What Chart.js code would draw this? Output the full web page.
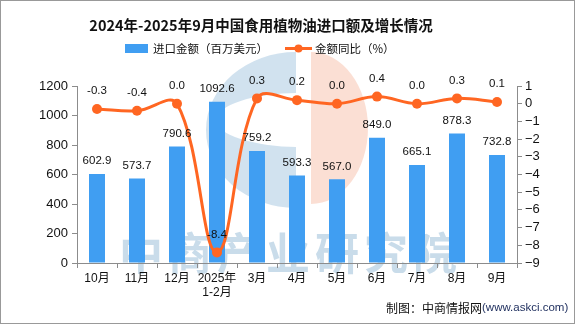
<!DOCTYPE html>
<html>
<head>
<meta charset="utf-8">
<script src="https://cdn.jsdelivr.net/npm/chart.js@4.4.1/dist/chart.umd.min.js"></script>
<style>
html,body{margin:0;padding:0;background:#fff;}
#wrap{width:575px;height:324px;position:relative;}
</style>
</head>
<body>
<div id="wrap"><canvas id="c"></canvas></div>
<script>
const chartTitle = '2024年-2025年9月中国食用植物油进口额及增长情况';
const categories = ['10月','11月','12月',['2025年','1-2月'],'3月','4月','5月','6月','7月','8月','9月'];
const importValues = [602.9,573.7,790.6,1092.6,759.2,593.3,567.0,849.0,665.1,878.3,732.8];
const yoyValues = [-0.3,-0.4,0.0,-8.4,0.3,0.2,0.0,0.4,0.0,0.3,0.1];
const seriesNames = ['进口金额（百万美元）','金额同比（%）'];
const sourceText = '制图：中商情报网';
const sourceUrl = '(www.askci.com)';
const watermarkText = '中商产业研究院';

const BAR = '#409EF2';
const LINE = '#FF6622';
const AXIS = '#8c8c8c';
const NUMFONT = '"Liberation Sans", "Noto Sans CJK SC", sans-serif';
const CJK = '"Noto Sans CJK SC", sans-serif';

const decor = {
  id: 'decor',
  beforeDraw(chart) {
    const ctx = chart.ctx;
    ctx.save();
    ctx.fillStyle = '#fff';
    ctx.fillRect(0, 0, chart.width, chart.height);
    ctx.restore();
    ctx.save();
    // logo blue C
    ctx.beginPath();
    ctx.rect(0, 0, 296, chart.height);
    ctx.clip();
    ctx.beginPath();
    ctx.ellipse(296, 130, 90, 78, 0, 0, Math.PI * 2);
    ctx.ellipse(300, 120, 84, 27, 0, 0, Math.PI * 2, true);
    ctx.fillStyle = 'rgba(70,140,190,0.25)';
    ctx.fill('evenodd');
    ctx.restore();
    ctx.save();
    ctx.beginPath();
    ctx.ellipse(311, 128, 57, 76, 0, -Math.PI / 2, Math.PI / 2);
    ctx.closePath();
    ctx.fillStyle = 'rgba(235,110,60,0.22)';
    ctx.fill();
    // watermark text
    ctx.font = 'bold 44px ' + CJK;
    ctx.fillStyle = 'rgba(60,130,180,0.28)';
    ctx.textBaseline = 'middle';
    ctx.textAlign = 'center';
    const chars = [...watermarkText];
    const x0 = 141, step = 49;
    chars.forEach((ch, i) => ctx.fillText(ch, x0 + i * step, 253));
    ctx.restore();
  },
  afterDatasetsDraw(chart) {
    const ctx = chart.ctx;
    ctx.save();
    ctx.font = '11.5px ' + NUMFONT;
    ctx.fillStyle = '#111';
    ctx.textAlign = 'center';
    ctx.textBaseline = 'middle';
    const barMeta = chart.getDatasetMeta(1);
    barMeta.data.forEach((el, i) => {
      ctx.fillText(importValues[i].toFixed(1), el.x, el.y - 13);
    });
    const lineMeta = chart.getDatasetMeta(0);
    lineMeta.data.forEach((el, i) => {
      ctx.fillText(yoyValues[i].toFixed(1), el.x, el.y - 18);
    });
    ctx.restore();
  },
  afterDraw(chart) {
    const ctx = chart.ctx;
    ctx.save();
    // title
    ctx.font = 'bold 14.5px ' + CJK;
    ctx.fillStyle = '#111';
    ctx.textAlign = 'center';
    ctx.textBaseline = 'middle';
    ctx.fillText(chartTitle, 261, 25);
    // legend
    ctx.textAlign = 'left';
    ctx.font = '11.5px ' + CJK;
    ctx.fillStyle = BAR;
    ctx.fillRect(125, 44, 23, 9);
    ctx.fillStyle = '#111';
    ctx.fillText(seriesNames[0], 153, 48.5);
    ctx.strokeStyle = LINE;
    ctx.lineWidth = 3;
    ctx.beginPath();
    ctx.moveTo(285, 48.5);
    ctx.lineTo(312, 48.5);
    ctx.stroke();
    ctx.fillStyle = LINE;
    ctx.beginPath();
    ctx.arc(298.5, 48.5, 4, 0, Math.PI * 2);
    ctx.fill();
    ctx.fillStyle = '#111';
    ctx.fillText(seriesNames[1], 315, 48.5);
    // source
    ctx.font = '12px ' + CJK;
    ctx.fillStyle = '#111';
    ctx.fillText(sourceText, 386, 308);
    const w = ctx.measureText(sourceText).width;
    ctx.font = '11.5px "Liberation Sans", sans-serif';
    ctx.fillStyle = '#1c2c5c';
    ctx.fillText(sourceUrl, 386 + w, 308);
    // border
    ctx.strokeStyle = '#999';
    ctx.lineWidth = 1;
    ctx.strokeRect(0.5, 0.5, chart.width - 1, chart.height - 1);
    ctx.restore();
  }
};

new Chart(document.getElementById('c'), {
  type: 'bar',
  data: {
    labels: categories,
    datasets: [
      {
        type: 'line',
        label: seriesNames[1],
        data: yoyValues,
        yAxisID: 'y1',
        borderColor: LINE,
        backgroundColor: LINE,
        borderWidth: 3,
        pointRadius: 5,
        pointBackgroundColor: LINE,
        pointBorderWidth: 0,
        tension: 0.38,
        order: 0
      },
      {
        type: 'bar',
        label: seriesNames[0],
        data: importValues,
        yAxisID: 'y',
        backgroundColor: BAR,
        categoryPercentage: 1,
        barPercentage: 0.4,
        order: 1
      }
    ]
  },
  options: {
    responsive: true,
    maintainAspectRatio: false,
    animation: false,
    layout: { padding: { top: 86, left: 0, right: 0, bottom: 0 } },
    plugins: { legend: { display: false }, title: { display: false }, tooltip: { enabled: false } },
    scales: {
      x: {
        offset: true,
        grid: { display: true, drawOnChartArea: false, drawTicks: true, tickLength: 5, color: AXIS, offset: true },
        border: { display: true, color: AXIS },
        ticks: { color: '#111', font: { family: NUMFONT, size: 12, lineHeight: 1.2 }, padding: 3, maxRotation: 0, autoSkip: false },
        afterFit(s) { s.height = 61; }
      },
      y: {
        position: 'left',
        min: 0, max: 1200,
        ticks: { stepSize: 200, autoSkip: false, color: '#111', font: { family: NUMFONT, size: 13 }, padding: 4,
          callback: v => String(v) },
        grid: { display: true, drawOnChartArea: false, drawTicks: true, tickLength: 5, color: AXIS },
        border: { display: true, color: AXIS },
        afterFit(s) { s.width = 77; }
      },
      y1: {
        position: 'right',
        min: -9, max: 1,
        ticks: { stepSize: 1, autoSkip: false, color: '#111', font: { family: NUMFONT, size: 13 }, padding: 3,
          callback: v => (v < 0 ? '\u2212' + Math.abs(v) : String(v)) },
        grid: { display: true, drawOnChartArea: false, drawTicks: true, tickLength: 5, color: AXIS },
        border: { display: true, color: AXIS },
        afterFit(s) { s.width = 58; }
      }
    }
  },
  plugins: [decor]
});
</script>
</body>
</html>
